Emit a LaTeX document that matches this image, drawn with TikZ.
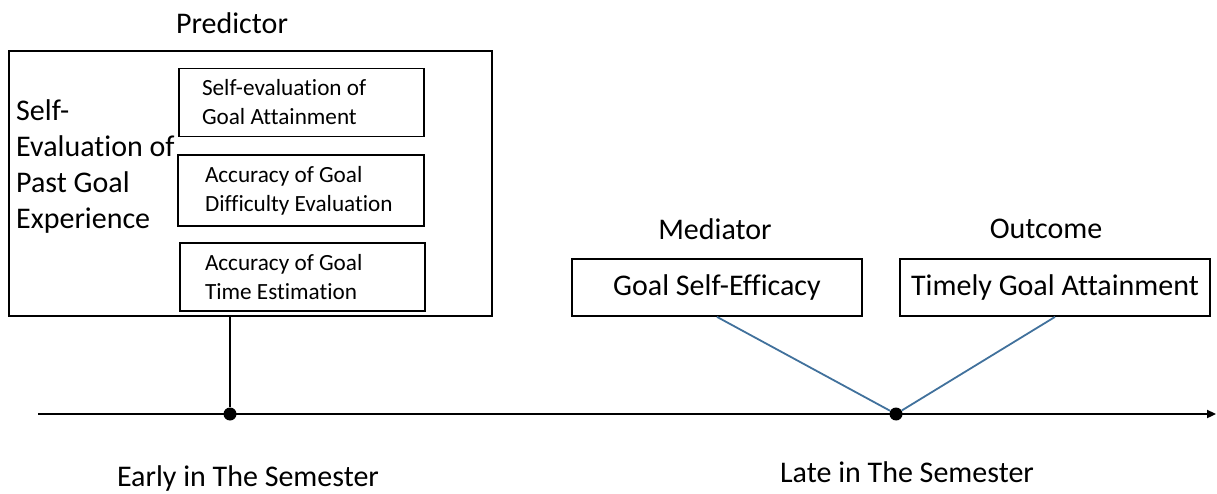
\documentclass[tikz,border=0pt]{standalone}
\usepackage{fontspec}
\setmainfont{Carlito}[Ligatures=NoCommon]
\usetikzlibrary{arrows.meta}
\definecolor{linkblue}{HTML}{41719C}

\begin{document}
\begin{tikzpicture}[x=1pt, y=-1pt,
    heading/.style={font=\fontsize{30}{36}\selectfont, inner sep=0pt},
    frame/.style={rectangle, draw, line width=1.8pt, minimum width=483pt, minimum height=265pt},
    item/.style={rectangle, draw, line width=1.8pt, text width=199pt, inner xsep=23pt, minimum height=68pt, align=flush left, font=\fontsize{23.2}{29}\selectfont},
    var/.style={rectangle, draw, line width=1.8pt, minimum height=57pt, font=\fontsize{30}{36}\selectfont},
    dot/.style={circle, fill=black, inner sep=0pt, minimum size=13pt},
    timeline/.style={line width=2.2pt, -{Triangle[length=9pt,width=8pt]}},
    link/.style={draw=linkblue, line width=1.8pt}
]
\useasboundingbox (0,0) rectangle (1217,494);

% predictor block
\node[heading] (pred) at (232,23) {Predictor};
\node[frame] (past) at (250.5,183.5) {};
\node[anchor=west, align=flush left, inner sep=0pt, font=\fontsize{30}{36}\selectfont] (pastlbl) at (16,167)
    {Self-\\Evaluation of\\Past Goal\\Experience};
\node[item] (attain) at (301.5,102.5) {Self-evaluation of\\Goal Attainment};
\node[item, inner xsep=27pt, text width=192pt, minimum height=71pt] (diffic) at (301,190.5) {Accuracy of Goal\\Difficulty Evaluation};
\node[item, inner xsep=25pt, text width=195pt] (timeest) at (302.5,277) {Accuracy of Goal\\Time Estimation};

% mediator and outcome
\node[heading] (med) at (715,229) {Mediator};
\node[heading] (out) at (1046,229) {Outcome};
\node[var, minimum width=290pt] (medbox) at (717,287.5) {Goal Self-Efficacy};
\node[var, minimum width=310pt] (outbox) at (1055,287.5) {Timely Goal Attainment};

% time axis
\coordinate (axstart) at (38,414);
\coordinate (axend) at (1216,414);
\draw[timeline] (axstart) -- (axend);
\node[dot] (early) at (230,414) {};
\node[dot] (late) at (896,414) {};
\draw[line width=1.8pt] (early |- past.south) -- (early);
\draw[link] (medbox.south) -- (late);
\draw[link] (outbox.south) -- (late);

\node[heading] (earlylbl) at (248,478) {Early in The Semester};
\node[heading] (latelbl) at (907,472) {Late in The Semester};
\end{tikzpicture}
\end{document}
